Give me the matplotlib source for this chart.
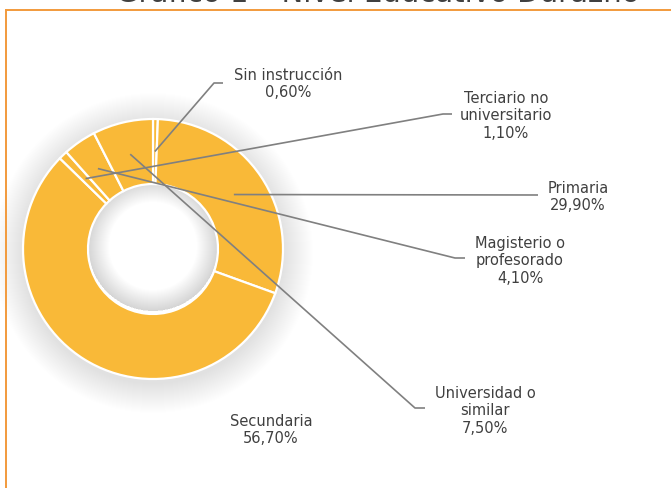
import matplotlib
matplotlib.use("Agg")
import matplotlib.pyplot as plt
import numpy as np
from matplotlib.patches import Circle, Wedge
from matplotlib.lines import Line2D

# ---- data ----
categories = ["Sin instrucción", "Primaria", "Secundaria",
              "Terciario no\nuniversitario", "Magisterio o\nprofesorado",
              "Universidad o\nsimilar"]
values = [0.60, 29.90, 56.70, 1.10, 4.10, 7.50]
title = "Gráfico 1 – Nivel Educativo Durazno"

# ---- layout (pixel coordinates, y from top) ----
W, H = 671, 489
cx, cy = 153, 250
R_out, R_in = 130, 65
# label centres and leader bend / end points
label_pos = [(288, 84), (578, 197), (271, 430), (506, 116), (520, 261), (485, 411)]
leader_bend = [(214, 84), (538, 196), None, (443, 115), (455, 259), (415, 409)]
leader_end = [(223, 84), (538, 196), None, (452, 115), (465, 259), (425, 409)]

fill = "#F9B938"
text_col = "#404040"
line_col = "#808080"
frame_col = "#F29A3C"

def fy(y):
    return H - y

fig = plt.figure(figsize=(W / 100, H / 100), dpi=100)
ax = fig.add_axes([0, 0, 1, 1])

# soft outer shadow
n_sh = 30
for k in range(n_sh):
    ax.add_patch(Circle((cx, fy(cy + 4)), R_out + n_sh - k, color="black",
                        alpha=0.0045, lw=0, zorder=0))
ax.add_patch(Circle((cx, fy(cy)), R_in, color="white", lw=0, zorder=0.5))
# inner shadow in hole
for k in range(1, 22):
    ax.add_patch(Wedge((cx, fy(cy - 3)), R_in, 0, 360, width=k, color="black",
                       alpha=0.008, lw=0, zorder=0.6))

wedges, _ = ax.pie(values, colors=[fill] * len(values), startangle=90,
                   counterclock=False, radius=R_out, center=(cx, fy(cy)),
                   wedgeprops=dict(width=R_out - R_in, edgecolor="white",
                                   linewidth=1.6),
                   frame=False)
for w in wedges:
    w.set_zorder(1)

r_mid = (R_out + R_in) / 2
for i, (name, v) in enumerate(zip(categories, values)):
    pct = f"{v:.2f}".replace(".", ",") + "%"
    lx, ly = label_pos[i]
    ax.text(lx, fy(ly), f"{name}\n{pct}", ha="center", va="center",
            fontsize=10.5, color=text_col, linespacing=1.22, zorder=5)
    if leader_bend[i] is not None:
        w = wedges[i]
        th = np.deg2rad((w.theta1 + w.theta2) / 2)
        sx = cx + r_mid * np.cos(th)
        sy = fy(cy) + r_mid * np.sin(th)
        bx, by = leader_bend[i]
        ex, ey = leader_end[i]
        ax.plot([sx, bx, ex], [sy, fy(by), fy(ey)], color=line_col,
                lw=1.2, zorder=4, solid_capstyle="butt")

ax.set_xlim(0, W)
ax.set_ylim(0, H)
ax.set_aspect("equal")
ax.axis("off")

# frame lines
fig.add_artist(Line2D([6 / W, 1], [1 - 11 / H, 1 - 11 / H], color=frame_col, lw=1.4))
fig.add_artist(Line2D([6 / W, 6 / W], [0, 1 - 11 / H], color=frame_col, lw=1.4))

# title (cut off at the top edge, as in the original)
fig.text(378 / W, 1 - 2 / H, title, ha="center", va="baseline",
         fontsize=21, color="#404040")

fig.savefig("out.png", dpi=100)
